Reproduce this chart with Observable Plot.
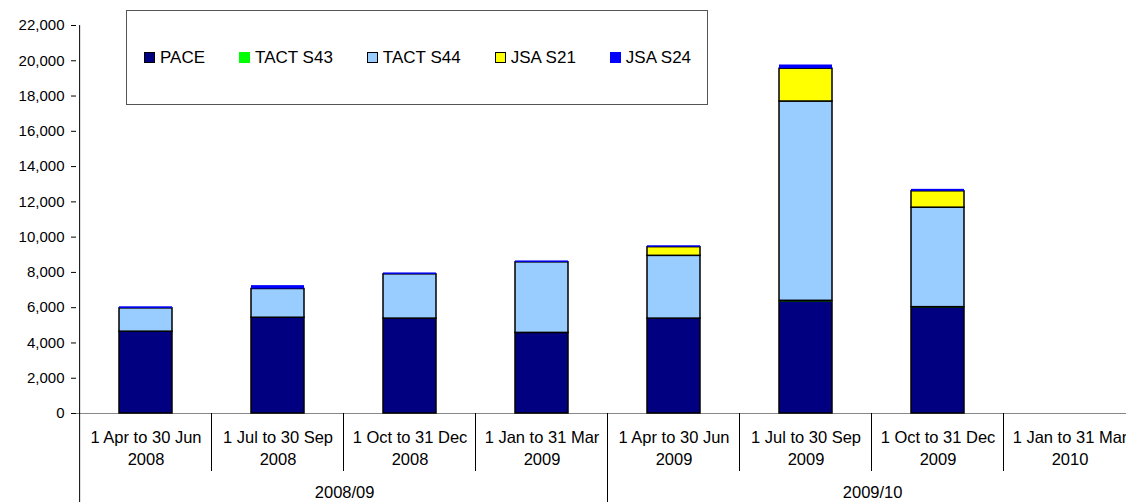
<!DOCTYPE html>
<html>
<head>
<meta charset="utf-8">
<script src="https://cdn.jsdelivr.net/npm/d3@7"></script>
<script src="https://cdn.jsdelivr.net/npm/@observablehq/plot@0.6"></script>
<style>
  html, body { margin: 0; padding: 0; background: #fff; overflow: hidden; }
  #wrap { position: relative; width: 1126px; height: 502px; overflow: hidden;
          font-family: "Liberation Sans", Arial, sans-serif; }
  #wrap svg { display: block; max-width: none !important; height: 502px !important; }
  #legend { position: absolute; left: 126px; top: 10px; width: 582px; height: 95px;
            box-sizing: border-box; border: 1px solid #555; background: #fff;
            display: flex; align-items: center; padding-left: 17px; gap: 34px;
            font-size: 17px; color: #000; }
  .item { display: flex; align-items: center; gap: 5px; white-space: nowrap; }
  .sw { width: 11px; height: 11px; box-sizing: border-box; }
</style>
</head>
<body>
<div id="wrap"><div id="legend"></div></div>
<script>
// ---- data ----
const categories = [
  "1 Apr to 30 Jun\n2008", "1 Jul to 30 Sep\n2008", "1 Oct to 31 Dec\n2008", "1 Jan to 31 Mar\n2009",
  "1 Apr to 30 Jun\n2009", "1 Jul to 30 Sep\n2009", "1 Oct to 31 Dec\n2009", "1 Jan to 31 Mar\n2010"
];
const groups = ["2008/09", "2009/10"];
const series = ["PACE", "TACT S43", "TACT S44", "JSA S21", "JSA S24"];
const pace    = [4640, 5430, 5380, 4570, 5380, 6340, 6000, 0];
const tactS43 = [0, 0, 0, 0, 0, 50, 30, 0];
const tactS44 = [1320, 1630, 2510, 4000, 3560, 11300, 5640, 0];
const jsaS21  = [0, 0, 0, 0, 490, 1860, 930, 0];
const jsaS24  = [90, 190, 80, 80, 80, 210, 110, 0];
const yTicks  = [0, 2000, 4000, 6000, 8000, 10000, 12000, 14000, 16000, 18000, 20000, 22000];

// ---- style ----
const seriesColors   = ["#000080", "#00FF00", "#99CCFF", "#FFFF00", "#0000FF"];
const seriesOutlined = [true, false, true, true, false];

const values = [pace, tactS43, tactS44, jsaS21, jsaS24];
const rows = [];
categories.forEach((c, i) => {
  series.forEach((s, k) => {
    if (values[k][i] > 0) rows.push({cat: c, series: s, value: values[k][i]});
  });
});
const colorOf = Object.fromEntries(series.map((s, k) => [s, seriesColors[k]]));
const outlineOf = Object.fromEntries(series.map((s, k) => [s, seriesOutlined[k] ? "#000" : "none"]));
const perGroup = categories.length / groups.length;

function categoryAxis(index, scales, vals, dimensions) {
  const x = scales.x, y = scales.y;
  const {width, height, marginLeft, marginRight} = dimensions;
  const step = (width - marginLeft - marginRight) / categories.length;
  const bw = typeof x.bandwidth === "function" ? x.bandwidth() : 0;
  const edge = c => x(c) + bw / 2 - step / 2;
  const y0 = y(0);
  const g = d3.create("svg:g").attr("stroke", "#000").attr("stroke-width", 1);
  g.append("line").attr("x1", edge(categories[0]) + 0.5).attr("x2", edge(categories[0]) + 0.5)
    .attr("y1", y(yTicks[yTicks.length - 1])).attr("y2", height);
  categories.forEach((c, i) => {
    if (i === 0) return;
    const xe = Math.round(edge(c)) + 0.5;
    const isGroup = i % perGroup === 0;
    g.append("line").attr("x1", xe).attr("x2", xe)
      .attr("y1", y0).attr("y2", isGroup ? height : y0 + 58);
  });
  groups.forEach((name, gi) => {
    const first = categories[gi * perGroup];
    const cx = edge(first) + step * perGroup / 2;
    g.append("text").attr("x", cx).attr("y", y0 + 79)
      .attr("stroke", "none").attr("fill", "#000")
      .attr("text-anchor", "middle").attr("dy", "0.35em")
      .attr("font-size", 16.5).text(name);
  });
  return g.node();
}

const chart = Plot.plot({
  width: 1140,
  height: 502,
  marginLeft: 76,
  marginRight: 2,
  marginTop: 25,
  marginBottom: 89,
  style: {fontSize: "15px", fontFamily: "Liberation Sans, Arial, sans-serif", color: "#000", background: "#fff", maxWidth: "none"},
  x: {domain: categories, paddingInner: 0.6, paddingOuter: 0.3, axis: null},
  y: {domain: [0, 22000], ticks: yTicks, tickFormat: d3.format(","), tickSize: 5, tickPadding: 7, label: null},
  color: {type: "identity"},
  marks: [
    Plot.ruleY([0], {stroke: "#888"}),
    Plot.barY(rows, {
      x: "cat", y: "value",
      fill: d => colorOf[d.series],
      stroke: d => outlineOf[d.series],
      strokeWidth: 1.5
    }),
    Plot.text(categories, {
      x: d => d, frameAnchor: "bottom", dy: 51, text: d => d,
      fontSize: 16.5, lineHeight: 1.33, fill: "#000"
    }),
    categoryAxis
  ]
});
document.getElementById("wrap").prepend(chart);

const legend = document.getElementById("legend");
series.forEach((s, k) => {
  const item = document.createElement("div");
  item.className = "item";
  const sw = document.createElement("span");
  sw.className = "sw";
  sw.style.background = seriesColors[k];
  if (seriesOutlined[k]) sw.style.border = "1.5px solid #000";
  const t = document.createElement("span");
  t.textContent = s;
  item.append(sw, t);
  legend.append(item);
});
</script>
</body>
</html>
